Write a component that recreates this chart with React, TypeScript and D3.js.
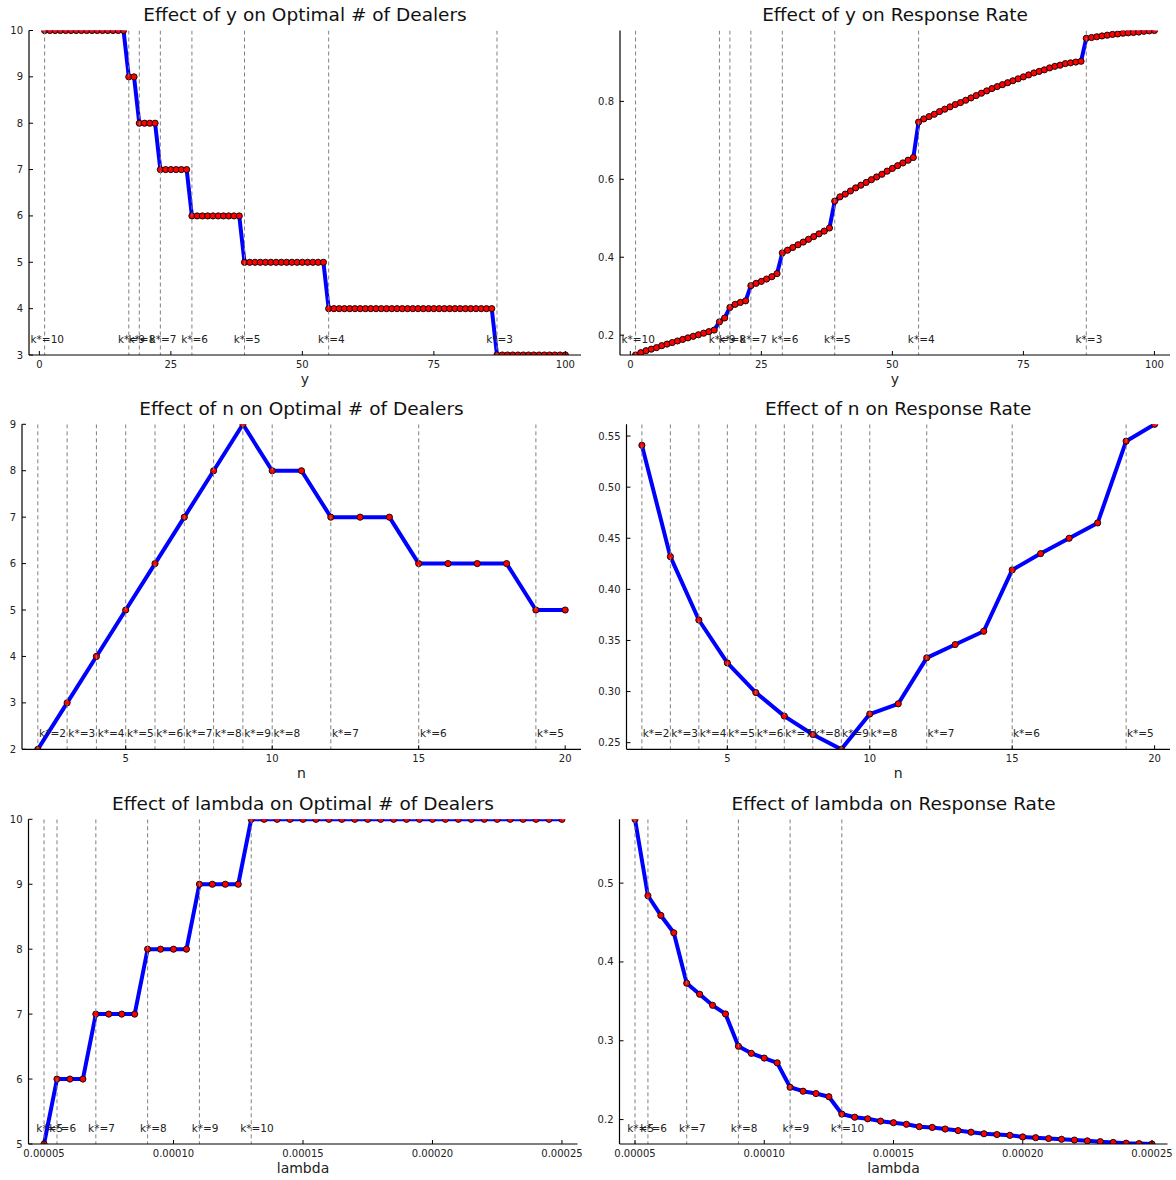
import * as d3 from "d3";
import React from "react";

const width = 1176;
const height = 1180;
const font = "DejaVu Sans, sans-serif";

// ---- y sweep (1..100) ----
const yGrid = d3.range(1, 101);
const dealersByY = [
  10, 10, 10, 10, 10, 10, 10, 10, 10, 10, 10, 10, 10, 10, 10, 10,
  9, 9,
  8, 8, 8, 8,
  7, 7, 7, 7, 7, 7,
  6, 6, 6, 6, 6, 6, 6, 6, 6, 6,
  5, 5, 5, 5, 5, 5, 5, 5, 5, 5, 5, 5, 5, 5, 5, 5,
  4, 4, 4, 4, 4, 4, 4, 4, 4, 4, 4, 4, 4, 4, 4, 4,
  4, 4, 4, 4, 4, 4, 4, 4, 4, 4, 4, 4, 4, 4, 4, 4,
  3, 3, 3, 3, 3, 3, 3, 3, 3, 3, 3, 3, 3, 3,
];
const responseByY = [
  0.149, 0.155, 0.16, 0.164, 0.168, 0.173, 0.177, 0.181, 0.185, 0.189, 0.193, 0.197, 0.201, 0.205, 0.209, 0.213,
  0.234, 0.244,
  0.271, 0.279, 0.284, 0.288,
  0.327, 0.333, 0.338, 0.344, 0.35, 0.358,
  0.411, 0.418, 0.425, 0.432, 0.439, 0.446, 0.453, 0.46, 0.467, 0.475,
  0.544, 0.555, 0.562, 0.57, 0.578, 0.585, 0.592, 0.599, 0.606, 0.613, 0.621, 0.628, 0.635, 0.642, 0.649, 0.656,
  0.747, 0.755, 0.761, 0.767, 0.774, 0.78, 0.786, 0.792, 0.797, 0.803, 0.809, 0.815, 0.821, 0.827, 0.833, 0.838,
  0.843, 0.848, 0.853, 0.858, 0.863, 0.868, 0.873, 0.877, 0.881, 0.886, 0.89, 0.893, 0.897, 0.899, 0.901, 0.903,
  0.962, 0.964, 0.966, 0.968, 0.97, 0.972, 0.973, 0.975, 0.976, 0.977, 0.978, 0.98, 0.981, 0.982,
];
const yBreaks = [1, 17, 19, 23, 29, 39, 55, 87];
const yBreakLabels = ["k*=10", "k*=9", "k*=8", "k*=7", "k*=6", "k*=5", "k*=4", "k*=3"];

// ---- n sweep (2..20) ----
const nGrid = d3.range(2, 21);
const dealersByN = [2, 3, 4, 5, 6, 7, 8, 9, 8, 8, 7, 7, 7, 6, 6, 6, 6, 5, 5];
const responseByN = [
  0.541, 0.432, 0.37, 0.328, 0.299, 0.276, 0.258, 0.2435, 0.278, 0.288,
  0.333, 0.346, 0.359, 0.419, 0.435, 0.45, 0.465, 0.545, 0.5615,
];
const nBreaks = [2, 3, 4, 5, 6, 7, 8, 9, 10, 12, 15, 19];
const nBreakLabels = ["k*=2", "k*=3", "k*=4", "k*=5", "k*=6", "k*=7", "k*=8", "k*=9", "k*=8", "k*=7", "k*=6", "k*=5"];

// ---- lambda sweep (0.00005..0.00025 step 0.000005) ----
const lambdaGrid = d3.range(10, 51).map((i) => i * 5e-6);
const dealersByLambda = [
  5,
  6, 6, 6,
  7, 7, 7, 7,
  8, 8, 8, 8,
  9, 9, 9, 9,
  10, 10, 10, 10, 10, 10, 10, 10, 10, 10, 10, 10, 10, 10, 10, 10, 10, 10, 10, 10, 10, 10, 10, 10, 10,
];
const responseByLambda = [
  0.581,
  0.484, 0.459, 0.437,
  0.373, 0.359, 0.345, 0.334,
  0.293, 0.284, 0.278, 0.272,
  0.241, 0.236, 0.233, 0.229,
  0.207, 0.203, 0.201, 0.198, 0.196, 0.194, 0.191, 0.19, 0.188, 0.186, 0.184, 0.182, 0.181,
  0.18, 0.178, 0.177, 0.176, 0.175, 0.174, 0.173, 0.172, 0.171, 0.17, 0.1695, 0.169,
];
const lambdaBreaks = [0.00005, 0.000055, 0.00007, 0.00009, 0.00011, 0.00013];
const lambdaBreakLabels = ["k*=5", "k*=6", "k*=7", "k*=8", "k*=9", "k*=10"];

const yTicksX = [0, 25, 50, 75, 100];
const nTicksX = [5, 10, 15, 20];
const lambdaTicksX = [0.00005, 0.0001, 0.00015, 0.0002, 0.00025];

const Panel = ({ id, box, xs, ys, xTicks, yTicks, xFmt, yFmt, breaks, breakLabels, annShift, title, xLabel }) => {
  const [x0, x1] = d3.extent(xs);
  const pad = (x1 - x0) * 0.03;
  const x = d3.scaleLinear().domain([x0 - pad, x1 + pad]).range([box.left, box.right]);
  const yExt = d3.extent(ys);
  const y = d3.scaleLinear().domain(yExt).range([box.bottom, box.top]);
  const line = d3
    .line()
    .x((d) => x(d[0]))
    .y((d) => y(d[1]));
  const pts = xs.map((v, i) => [v, ys[i]]);
  const annY = y(yExt[0] + 0.05 * (yExt[1] - yExt[0]));
  const cx = (box.left + box.right) / 2;

  return (
    <g>
      <defs>
        <clipPath id={id}>
          <rect x={box.left} y={box.top} width={box.right - box.left} height={box.bottom - box.top} />
        </clipPath>
      </defs>
      <text x={cx} y={box.top - 9.5} textAnchor="middle" fontSize={18.5} fill="#111">
        {title}
      </text>
      <g clipPath={`url(#${id})`}>
        <path d={line(pts)} fill="none" stroke="#0000ff" strokeWidth={4} strokeLinejoin="round" />
        {pts.map((d, i) => (
          <circle key={i} cx={x(d[0])} cy={y(d[1])} r={3.1} fill="#ff0000" stroke="#000" strokeWidth={0.9} />
        ))}
        {breaks.map((b, i) => (
          <line
            key={i}
            x1={x(b)}
            x2={x(b)}
            y1={box.top}
            y2={box.bottom}
            stroke="#808080"
            strokeWidth={1}
            strokeDasharray="4,3"
          />
        ))}
      </g>
      {breaks.map((b, i) => (
        <text key={i} x={x(b + annShift)} y={annY} textAnchor="middle" dominantBaseline="central" fontSize={10.5} fill="#222">
          {breakLabels[i]}
        </text>
      ))}
      <line x1={box.left} x2={box.right} y1={box.bottom} y2={box.bottom} stroke="#000" strokeWidth={1.2} />
      <line x1={box.left} x2={box.left} y1={box.top} y2={box.bottom} stroke="#000" strokeWidth={1.2} />
      {yTicks.map((t) => (
        <g key={t}>
          <line x1={box.left} x2={box.left + 4} y1={y(t)} y2={y(t)} stroke="#000" strokeWidth={1} />
          <text x={box.left - 6} y={y(t)} textAnchor="end" dominantBaseline="central" fontSize={10} fill="#222">
            {yFmt(t)}
          </text>
        </g>
      ))}
      {xTicks.map((t) => (
        <g key={t}>
          <line x1={x(t)} x2={x(t)} y1={box.bottom} y2={box.bottom - 4} stroke="#000" strokeWidth={1} />
          <text x={x(t)} y={box.bottom + 13} textAnchor="middle" fontSize={10} fill="#222">
            {xFmt(t)}
          </text>
        </g>
      ))}
      <text x={cx} y={box.bottom + 29} textAnchor="middle" fontSize={14} fill="#222">
        {xLabel}
      </text>
    </g>
  );
};

const intFmt = d3.format("d");

export default function App() {
  return (
    <svg
      width={width}
      height={height}
      style={{ position: "absolute", left: 0, top: 0, background: "#fff" }}
      fontFamily={font}
    >
      <Panel
        id="c1"
        box={{ left: 29, right: 581, top: 30.5, bottom: 355 }}
        xs={yGrid}
        ys={dealersByY}
        xTicks={yTicksX}
        yTicks={[3, 4, 5, 6, 7, 8, 9, 10]}
        xFmt={intFmt}
        yFmt={intFmt}
        breaks={yBreaks}
        breakLabels={yBreakLabels}
        annShift={0.5}
        title="Effect of y on Optimal # of Dealers"
        xLabel="y"
      />
      <Panel
        id="c2"
        box={{ left: 620, right: 1170, top: 30.5, bottom: 355 }}
        xs={yGrid}
        ys={responseByY}
        xTicks={yTicksX}
        yTicks={[0.2, 0.4, 0.6, 0.8]}
        xFmt={intFmt}
        yFmt={d3.format(".1f")}
        breaks={yBreaks}
        breakLabels={yBreakLabels}
        annShift={0.5}
        title="Effect of y on Response Rate"
        xLabel="y"
      />
      <Panel
        id="c3"
        box={{ left: 22, right: 581, top: 424.3, bottom: 749.3 }}
        xs={nGrid}
        ys={dealersByN}
        xTicks={nTicksX}
        yTicks={[2, 3, 4, 5, 6, 7, 8, 9]}
        xFmt={intFmt}
        yFmt={intFmt}
        breaks={nBreaks}
        breakLabels={nBreakLabels}
        annShift={0.5}
        title="Effect of n on Optimal # of Dealers"
        xLabel="n"
      />
      <Panel
        id="c4"
        box={{ left: 626.5, right: 1170, top: 424.3, bottom: 749.3 }}
        xs={nGrid}
        ys={responseByN}
        xTicks={nTicksX}
        yTicks={[0.25, 0.3, 0.35, 0.4, 0.45, 0.5, 0.55]}
        xFmt={intFmt}
        yFmt={d3.format(".2f")}
        breaks={nBreaks}
        breakLabels={nBreakLabels}
        annShift={0.5}
        title="Effect of n on Response Rate"
        xLabel="n"
      />
      <Panel
        id="c5"
        box={{ left: 28.5, right: 577.5, top: 819.3, bottom: 1144 }}
        xs={lambdaGrid}
        ys={dealersByLambda}
        xTicks={lambdaTicksX}
        yTicks={[5, 6, 7, 8, 9, 10]}
        xFmt={d3.format(".5f")}
        yFmt={intFmt}
        breaks={lambdaBreaks}
        breakLabels={lambdaBreakLabels}
        annShift={0.0000022}
        title="Effect of lambda on Optimal # of Dealers"
        xLabel="lambda"
      />
      <Panel
        id="c6"
        box={{ left: 619.5, right: 1167.5, top: 819.3, bottom: 1144 }}
        xs={lambdaGrid}
        ys={responseByLambda}
        xTicks={lambdaTicksX}
        yTicks={[0.2, 0.3, 0.4, 0.5]}
        xFmt={d3.format(".5f")}
        yFmt={d3.format(".1f")}
        breaks={lambdaBreaks}
        breakLabels={lambdaBreakLabels}
        annShift={0.0000022}
        title="Effect of lambda on Response Rate"
        xLabel="lambda"
      />
    </svg>
  );
}
